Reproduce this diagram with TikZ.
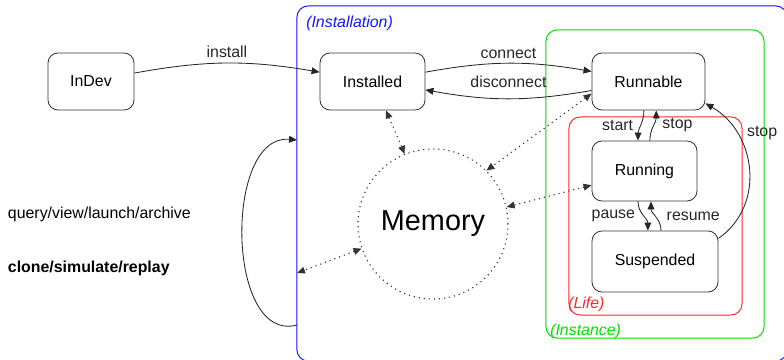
\documentclass[tikz,border=0pt]{standalone}
\usepackage{fontspec}
\setmainfont{Liberation Sans}
\usetikzlibrary{positioning,arrows.meta,shapes.geometric}
\definecolor{lcblue}{RGB}{20,20,255}
\definecolor{lcgreen}{RGB}{0,225,0}
\definecolor{lcred}{RGB}{255,40,40}

\begin{document}
\begin{tikzpicture}[
    x=0.025cm, y=0.025cm,
    font=\fontsize{11.3}{13.5}\selectfont,
    state/.style  ={draw=black!80, line width=0.6pt, rounded corners=2.5mm, align=center, minimum height=1.425cm, inner sep=2pt},
    memory/.style ={circle, draw=black!80, line width=0.8pt, dash pattern=on 0.8pt off 2.8pt, minimum size=3.75cm, font=\fontsize{20.5}{24}\selectfont},
    frame/.style  ={line width=0.7pt, rounded corners=2.8mm, inner sep=0pt},
    tag/.style    ={font=\fontsize{11.3}{13.5}\selectfont\itshape, inner sep=0pt, anchor=west},
    move/.style   ={-{Triangle[length=2mm,width=1.7mm]}, line width=0.6pt, black!85},
    share/.style  ={{Triangle[length=2mm,width=1.7mm]}-{Triangle[length=2mm,width=1.7mm]}, line width=0.8pt, black!80, dash pattern=on 0.8pt off 2.8pt},
  ]
  \useasboundingbox (0,0) rectangle (784,-360);
  % nested scopes: installation > instance > life
  \node[frame, draw=lcblue,  minimum width=12.25cm, minimum height=8.875cm] (lc-inst) at (542,-183.5) {};
  \node[frame, draw=lcgreen, minimum width=5.45cm,  minimum height=7.7cm]   (lc-ince) at (655,-184) {};
  \node[frame, draw=lcred,   minimum width=4.325cm, minimum height=4.95cm]  (lc-life) at (655.5,-216) {};
  \node[tag, text=lcblue]  (lc-inst-tag) at (306,-23)  {(Installation)};
  \node[tag, text=lcgreen] (lc-ince-tag) at (550,-331) {(Instance)};
  \node[tag, text=lcred]   (lc-life-tag) at (568,-304) {(Life)};
  % states
  \node[state, minimum width=2.15cm]  (lc-indev)     at (91,-81.5)    {InDev};
  \node[state, minimum width=2.625cm] (lc-installed) at (372.5,-81.5) {Installed};
  \node[state, minimum width=2.825cm] (lc-runnable)  at (648.5,-81.5) {Runnable};
  \node[state, minimum width=2.625cm, minimum height=1.5cm]  (lc-running)   at (644.5,-171) {Running};
  \node[state, minimum width=3.15cm,  minimum height=1.525cm] (lc-suspended) at (655,-261.5) {Suspended};
  \node[memory] (lc-mem) at (433,-224) {Memory};
  % operations on the left
  \node[anchor=west] (lc-ops)  at (3,-214) {query/view/launch/archive};
  \node[anchor=west, font=\fontsize{11.3}{13.5}\selectfont\bfseries] (lc-ops2) at (3,-268) {clone/simulate/replay};
  \coordinate (lc-loop-top) at (297,-140);
  \coordinate (lc-loop-bot) at (297,-325);
  \coordinate (lc-inst-dot) at (297,-273);
  % transitions
  \draw[move] (lc-indev.11) to[bend left=10] node[above]{install} (lc-installed.170);
  \draw[move] (lc-installed.10) to[bend left=10] node[above]{connect} (lc-runnable.170);
  \draw[move] (lc-runnable.189) to[bend left=10] node[above=4pt]{disconnect} (lc-installed.351);
  \draw[move] (lc-runnable.261) to[out=-90,in=90] node[left=2pt]{start} (lc-running.102);
  \draw[move] (lc-running.80) to[out=90,in=-90] node[right=3pt]{stop} (lc-runnable.285);
  \draw[move] (lc-running.258) to[out=-90,in=90] node[left=2pt]{pause} (lc-suspended.103);
  \draw[move] (lc-suspended.79) to[out=90,in=-90] node[right=4pt]{resume} (lc-running.282);
  \draw[move] (lc-suspended.20) to[out=35,in=-30,looseness=1.1] node[pos=0.74,right=4pt]{stop} (lc-runnable.339);
  \draw[move] (lc-loop-bot) to[out=195,in=175,looseness=1.02] (lc-loop-top);
  % memory links
  \draw[share] (lc-installed.295) -- (lc-mem.112);
  \draw[share] (lc-runnable.192) -- (lc-mem.45);
  \draw[share] (lc-running.195) -- (lc-mem.13);
  \draw[share] (lc-mem.199) -- (lc-inst-dot);
\end{tikzpicture}
\end{document}
